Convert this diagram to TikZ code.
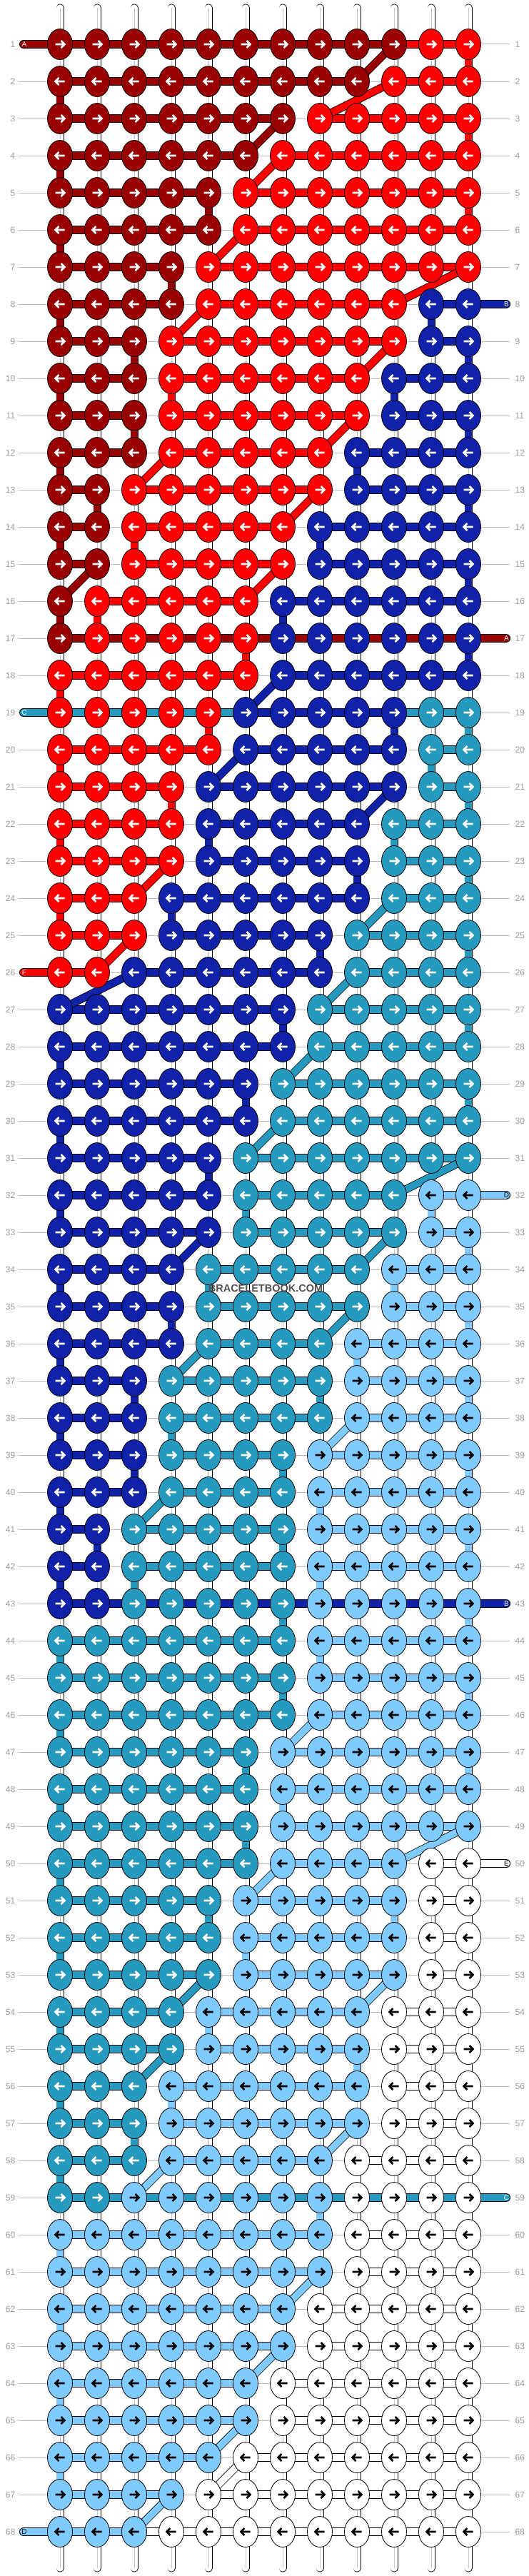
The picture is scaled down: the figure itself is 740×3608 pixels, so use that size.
\documentclass[tikz,border=0pt]{standalone}
\usepackage{fontspec}
\setmainfont{Liberation Sans}
\usetikzlibrary{shapes.geometric}
\definecolor{cD}{HTML}{990000}
\definecolor{cR}{HTML}{FF0000}
\definecolor{cB}{HTML}{1122AA}
\definecolor{cT}{HTML}{2599BE}
\definecolor{cL}{HTML}{7FCBFF}
\definecolor{cW}{HTML}{FFFFFF}
\colorlet{aD}{white}
\colorlet{aR}{white}
\colorlet{aB}{white}
\colorlet{aT}{white}
\colorlet{aL}{black}
\colorlet{aW}{black}
\definecolor{labgray}{HTML}{9A9A9A}
\definecolor{linegray}{HTML}{BBBBBB}
\definecolor{midgray}{HTML}{C4C4C4}
\definecolor{wmgray}{HTML}{505050}
\newcount\kc
\tikzset{
 knot/.style={ellipse, draw=black, line width=0.8pt, minimum width=35pt, minimum height=43pt, inner sep=0pt},
 arrowpath/.style={line width=2.6pt, line join=miter, line cap=butt},
 bar/.style={draw=black, line width=0.8pt, double distance=10.4pt},
 stub/.style={draw=black, line width=0.8pt, double distance=10.4pt, line cap=round},
 vbg/.style={draw=black, line width=0.8pt, double=white, double distance=9.4pt},
 vmid/.style={draw=midgray, line width=0.9pt},
 vcol/.style={draw=black, line width=0.8pt, double distance=9.4pt},
 diag/.style={draw=black, line width=0.8pt, double distance=9.6pt},
 guide/.style={draw=linegray, line width=1pt},
 rowlab/.style={text=labgray, inner sep=0pt, font=\fontsize{12}{12}\selectfont},
 stublab/.style={inner sep=0pt, font=\fontsize{10}{10}\selectfont},
}
\begin{document}
\begin{tikzpicture}[x=1pt,y=-1pt]
\useasboundingbox (0,0) rectangle (740,3608);
\fill[white] (0,0) rectangle (740,3608);
% pass 1: knot positions and colours
\foreach \r/\segs in {1/{D/10,R/2}, 2/{D/9,R/3}, 3/{D/7,R/5}, 4/{D/6,R/6}, 5/{D/5,R/7}, 6/{D/5,R/7}, 7/{D/4,R/8}, 8/{D/4,R/6,B/2}, 9/{D/3,R/7,B/2}, 10/{D/3,R/6,B/3}, 11/{D/3,R/6,B/3}, 12/{D/3,R/5,B/4}, 13/{D/2,R/6,B/4}, 14/{D/2,R/5,B/5}, 15/{D/2,R/5,B/5}, 16/{D/1,R/5,B/6}, 17/{D/1,R/5,B/6}, 18/{R/6,B/6}, 19/{R/5,B/5,T/2}, 20/{R/5,B/5,T/2}, 21/{R/4,B/6,T/2}, 22/{R/4,B/5,T/3}, 23/{R/4,B/5,T/3}, 24/{R/3,B/6,T/3}, 25/{R/3,B/5,T/4}, 26/{R/2,B/6,T/4}, 27/{B/7,T/5}, 28/{B/7,T/5}, 29/{B/6,T/6}, 30/{B/6,T/6}, 31/{B/5,T/7}, 32/{B/5,T/5,L/2}, 33/{B/5,T/5,L/2}, 34/{B/4,T/5,L/3}, 35/{B/4,T/5,L/3}, 36/{B/4,T/4,L/4}, 37/{B/3,T/5,L/4}, 38/{B/3,T/5,L/4}, 39/{B/3,T/4,L/5}, 40/{B/3,T/4,L/5}, 41/{B/2,T/5,L/5}, 42/{B/2,T/5,L/5}, 43/{B/2,T/5,L/5}, 44/{T/7,L/5}, 45/{T/7,L/5}, 46/{T/7,L/5}, 47/{T/6,L/6}, 48/{T/6,L/6}, 49/{T/6,L/6}, 50/{T/6,L/4,W/2}, 51/{T/5,L/5,W/2}, 52/{T/5,L/5,W/2}, 53/{T/5,L/5,W/2}, 54/{T/4,L/5,W/3}, 55/{T/4,L/5,W/3}, 56/{T/3,L/6,W/3}, 57/{T/3,L/6,W/3}, 58/{T/3,L/5,W/4}, 59/{T/2,L/6,W/4}, 60/{L/8,W/4}, 61/{L/8,W/4}, 62/{L/7,W/5}, 63/{L/7,W/5}, 64/{L/6,W/6}, 65/{L/6,W/6}, 66/{L/5,W/7}, 67/{L/4,W/8}, 68/{L/3,W/9}} {
  \global\kc=0
  \pgfmathtruncatemacro{\yy}{62+52*(\r-1)}
  \foreach \cl/\n in \segs {
    \foreach \i in {1,...,\n} {
      \global\advance\kc by 1
      \edef\cc{\the\kc}
      \pgfmathtruncatemacro{\xx}{84+52*(\cc-1)}
      \coordinate (k\r-\cc) at (\xx,\yy);
      \expandafter\xdef\csname kcol@\r @\cc\endcsname{\cl}
    }
  }
}
% row guide lines
\foreach \r in {1,...,68} {
  \pgfmathtruncatemacro{\yy}{62+52*(\r-1)}
  \coordinate (gl\r) at (26,\yy);
  \coordinate (gr\r) at (714,\yy);
  \draw[guide] (gl\r) -- (gr\r);
}
% background vertical strings
\foreach \r in {1,...,67} {
  \pgfmathtruncatemacro{\rr}{\r+1}
  \foreach \q in {1,...,12} {
    \draw[vbg] (k\r-\q) -- (k\rr-\q);
    \draw[vmid] (k\r-\q) -- (k\rr-\q);
  }
}
\foreach \q in {1,...,12} {
  \pgfmathtruncatemacro{\xx}{84+52*(\q-1)}
  \coordinate (top\q) at (\xx,11);
  \coordinate (bot\q) at (\xx,3597);
  \draw[vbg, line cap=round] (top\q) -- (k1-\q);
  \draw[vmid] (top\q) -- (k1-\q);
  \draw[vbg, line cap=round] (k68-\q) -- (bot\q);
  \draw[vmid] (k68-\q) -- (bot\q);
}
% coloured turns
\foreach \r/\q/\cl in {1/12/R, 2/1/D, 3/12/R, 4/1/D, 5/5/D, 5/12/R, 6/1/D, 7/4/D, 8/1/D, 8/11/B, 9/3/D, 9/12/B, 10/1/D, 10/4/R, 10/10/B, 11/3/D, 11/12/B, 12/1/D, 12/9/B, 13/2/D, 13/12/B, 14/1/D, 14/3/R, 14/8/B, 15/12/B, 16/1/D, 16/2/R, 16/7/B, 17/6/R, 17/12/B, 18/1/R, 19/5/R, 19/10/B, 19/12/T, 20/1/R, 20/11/T, 21/4/R, 21/12/T, 22/1/R, 22/5/B, 22/10/T, 23/9/B, 23/12/T, 24/1/R, 24/4/B, 25/8/B, 25/12/T, 27/7/B, 27/12/T, 28/1/B, 29/6/B, 29/12/T, 30/1/B, 31/5/B, 32/1/B, 32/6/T, 32/11/L, 33/12/L, 34/1/B, 34/5/T, 34/10/L, 35/4/B, 35/12/L, 36/1/B, 36/9/L, 37/3/B, 37/8/T, 37/12/L, 38/1/B, 38/4/T, 39/3/B, 39/7/T, 39/12/L, 40/1/B, 40/8/L, 41/2/B, 41/7/T, 41/12/L, 42/1/B, 42/3/T, 42/8/L, 43/7/T, 43/12/L, 44/1/T, 44/8/L, 45/7/T, 45/12/L, 46/1/T, 47/6/T, 47/12/L, 48/1/T, 48/7/L, 49/6/T, 50/1/T, 50/11/W, 51/5/T, 51/10/L, 51/12/W, 52/1/T, 52/6/L, 52/11/W, 53/12/W, 54/1/T, 54/5/L, 54/10/W, 55/9/L, 55/12/W, 56/1/T, 56/4/L, 56/10/W, 57/3/T, 57/12/W, 58/1/T, 58/9/W, 59/8/L, 59/12/W, 60/1/L, 60/9/W, 61/12/W, 62/1/L, 62/8/W, 63/12/W, 64/1/L, 64/7/W, 65/12/W, 66/1/L, 67/12/W} {
  \pgfmathtruncatemacro{\rr}{\r+1}
  \draw[vcol, double=c\cl] (k\r-\q) -- (k\rr-\q);
}
% in-row bars between knots of one colour
\foreach \r in {1,...,68} {
  \foreach \q in {1,...,11} {
    \pgfmathtruncatemacro{\qq}{\q+1}
    \edef\ca{\csname kcol@\r @\q\endcsname}
    \edef\cb{\csname kcol@\r @\qq\endcsname}
    \ifx\ca\cb
      \draw[bar, double=c\ca] (k\r-\q) -- (k\r-\qq);
    \fi
  }
}
% strings entering and leaving
\coordinate (s1) at (33,62);
\coordinate (s8) at (709,426);
\coordinate (s17) at (709,894);
\coordinate (s19) at (33,998);
\coordinate (s26) at (33,1362);
\coordinate (s32) at (709,1674);
\coordinate (s43) at (709,2246);
\coordinate (s50) at (709,2610);
\coordinate (s59) at (709,3078);
\coordinate (s68) at (33,3546);
\draw[stub, double=cD] (s1) -- (k1-1);
\draw[bar, double=cR] (k1-10) -- (k1-11);
\draw[stub, double=cB] (k8-12) -- (s8);
\draw[stub, double=cD] (k17-1) -- (s17);
\draw[stub, double=cT] (s19) -- (k19-6);
\draw[bar, double=cT] (k19-10) -- (k19-12);
\draw[stub, double=cR] (s26) -- (k26-1);
\draw[stub, double=cL] (k32-12) -- (s32);
\draw[stub, double=cB] (k43-1) -- (s43);
\draw[stub, double=cW] (k50-12) -- (s50);
\draw[stub, double=cT] (k59-1) -- (s59);
\draw[stub, double=cL] (s68) -- (k68-1);
\draw[bar, double=cW] (k68-3) -- (k68-4);
% diagonal jumps
\foreach \r/\a/\b/\cl in {1/10/9/D, 2/10/8/R, 3/7/6/D, 4/7/6/R, 6/6/5/R, 7/12/10/R, 8/5/4/R, 9/10/9/R, 11/9/8/R, 12/4/3/R, 13/8/7/R, 15/2/1/D, 15/7/6/R, 18/7/6/B, 20/6/5/B, 21/10/9/B, 23/4/3/R, 24/10/9/T, 25/3/2/R, 26/3/1/B, 26/9/8/T, 28/8/7/T, 30/7/6/T, 31/12/10/T, 33/5/4/B, 33/10/9/T, 35/9/8/T, 36/5/4/T, 38/9/8/L, 40/4/3/T, 46/8/7/L, 49/12/10/L, 50/7/6/L, 53/5/4/T, 53/10/9/L, 55/4/3/T, 57/9/8/L, 58/4/3/L, 61/8/7/L, 63/7/6/L, 65/6/5/L, 66/6/5/W, 67/4/3/L} {
  \pgfmathtruncatemacro{\rr}{\r+1}
  \draw[diag, double=c\cl] (k\r-\a) -- (k\rr-\b);
}
% knots with arrows
\foreach \r in {1,...,68} {
  \ifodd\r\relax \def\dd{1}\else \def\dd{-1}\fi
  \foreach \q in {1,...,12} {
    \edef\cl{\csname kcol@\r @\q\endcsname}
    \node[knot, fill=c\cl] (n\r-\q) at (k\r-\q) {};
    \begin{scope}[shift={(k\r-\q)}, xscale=\dd]
      \draw[arrowpath, draw=a\cl] (-6.5,0) -- (6,0) (1.5,-5) -- (6.5,0) -- (1.5,5);
    \end{scope}
  }
}
% row numbers
\foreach \r in {1,...,68} {
  \pgfmathtruncatemacro{\yy}{62+52*(\r-1)}
  \node[rowlab, anchor=east] (ln\r) at (21.5,\yy) {\r};
  \node[rowlab, anchor=west] (rn\r) at (721.5,\yy) {\r};
}
\node[stublab, text=white] (t1) at (34,62) {A};
\node[stublab, text=white] (t8) at (709.5,426) {B};
\node[stublab, text=white] (t17) at (709.5,894) {A};
\node[stublab, text=white] (t19) at (34,998) {C};
\node[stublab, text=white] (t26) at (34,1362) {F};
\node[stublab, text=black] (t32) at (709.5,1674) {D};
\node[stublab, text=white] (t43) at (709.5,2246) {B};
\node[stublab, text=black] (t50) at (709.5,2610) {E};
\node[stublab, text=white] (t59) at (709.5,3078) {C};
\node[stublab, text=black] (t68) at (34,3546) {D};
% watermark
\node[inner sep=0pt, text=wmgray, font=\bfseries\fontsize{14.5}{14.5}\selectfont] (wm) at (372,1804) {BRACELETBOOK.COM};
\end{tikzpicture}
\end{document}
